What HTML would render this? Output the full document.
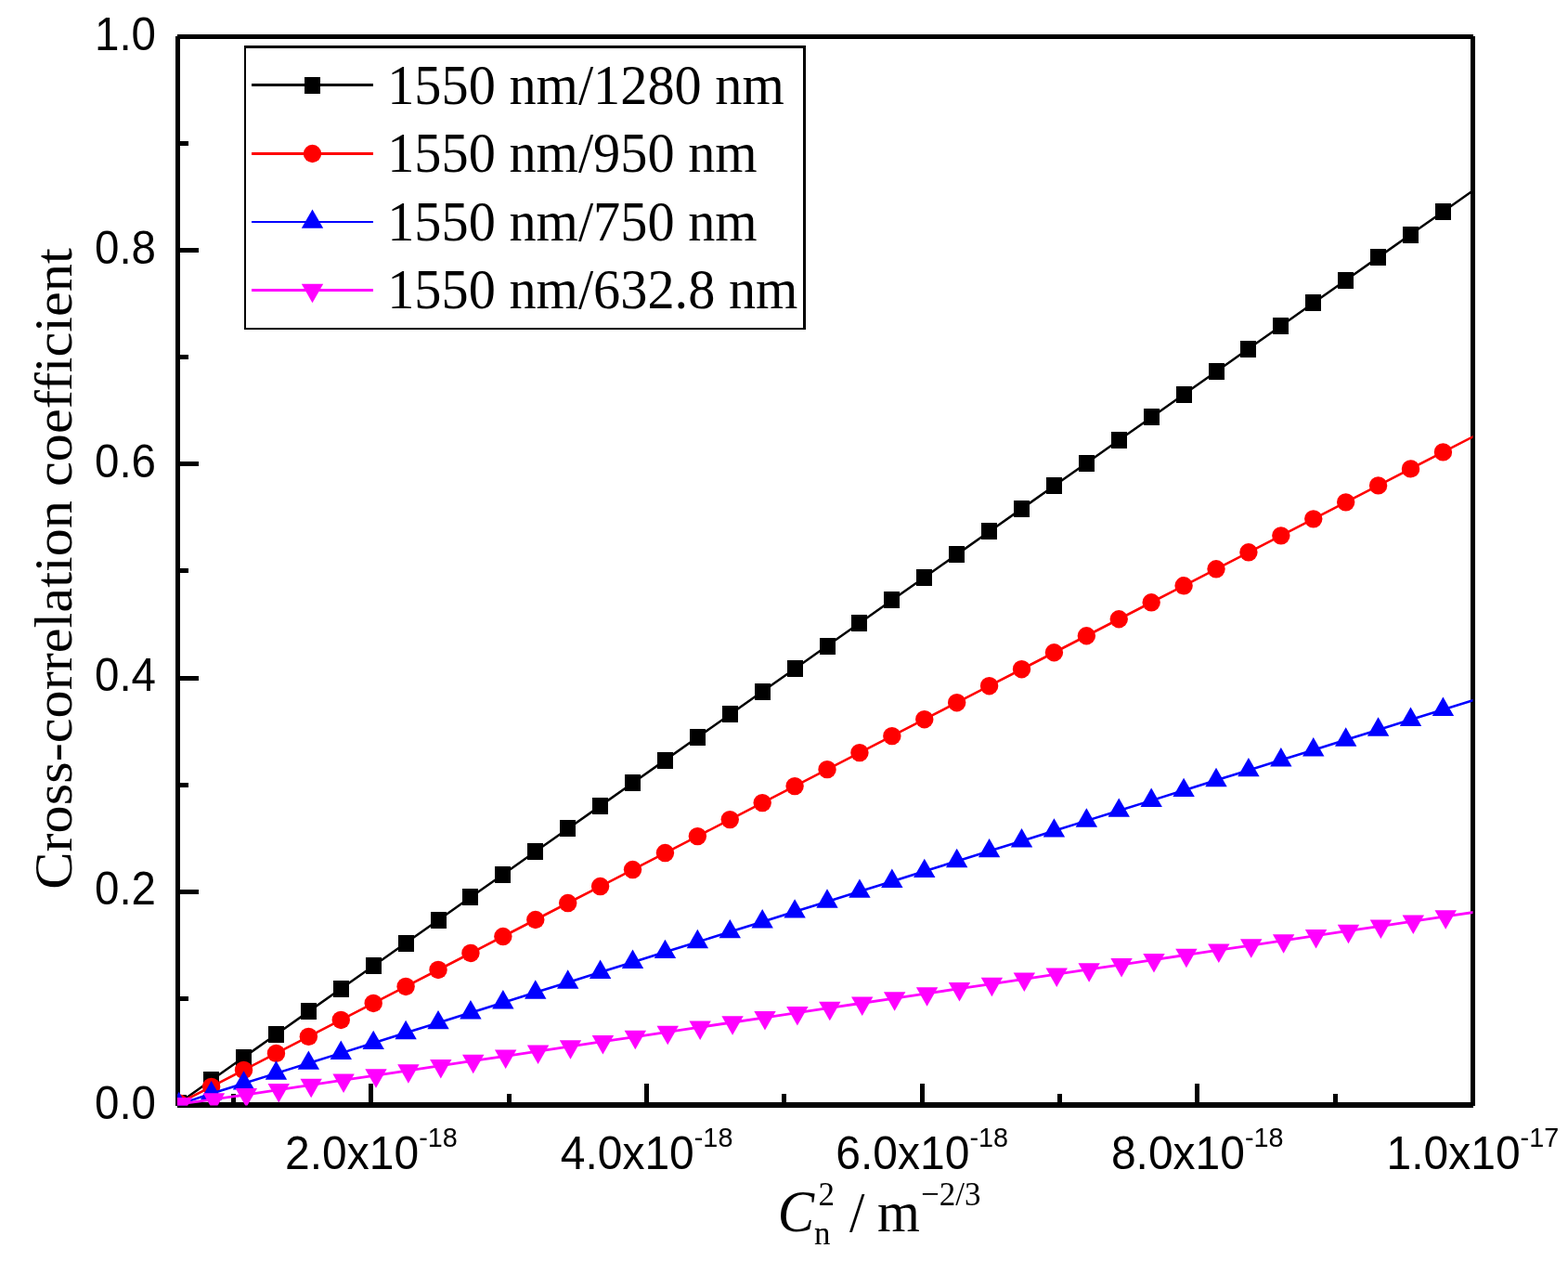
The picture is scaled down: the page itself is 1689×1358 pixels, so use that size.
<!DOCTYPE html>
<html lang="en"><head><meta charset="utf-8"><title>Cross-correlation coefficient</title>
<style>html,body{margin:0;padding:0;background:#ffffff}svg{display:block}text{font-family:"Liberation Sans",sans-serif;fill:#000}.s{font-family:"Liberation Serif",serif}</style></head><body>
<svg width="1689" height="1358" viewBox="0 0 1689 1358">
<rect width="1689" height="1358" fill="#ffffff"/>
<defs><clipPath id="c"><rect x="191" y="39" width="1395.5" height="1151.6"/></clipPath></defs>
<g fill="#000" shape-rendering="crispEdges">
<rect x="191" y="37" width="1396" height="5"/>
<rect x="191" y="1187" width="1396" height="6"/>
<rect x="189" y="39" width="5" height="1152"/>
<rect x="1584" y="39" width="5" height="1152"/>
<rect x="191" y="1188" width="23" height="5"/>
<rect x="191" y="1073" width="12" height="5"/>
<rect x="191" y="958" width="23" height="5"/>
<rect x="191" y="843" width="12" height="5"/>
<rect x="191" y="728" width="23" height="5"/>
<rect x="191" y="612" width="12" height="5"/>
<rect x="191" y="497" width="23" height="5"/>
<rect x="191" y="382" width="12" height="5"/>
<rect x="191" y="267" width="23" height="5"/>
<rect x="191" y="152" width="12" height="5"/>
<rect x="191" y="37" width="23" height="5"/>
<rect x="249" y="1178" width="5" height="11"/>
<rect x="397" y="1167" width="5" height="22"/>
<rect x="546" y="1178" width="5" height="11"/>
<rect x="694" y="1167" width="5" height="22"/>
<rect x="842" y="1178" width="5" height="11"/>
<rect x="991" y="1167" width="5" height="22"/>
<rect x="1139" y="1178" width="5" height="11"/>
<rect x="1287" y="1167" width="5" height="22"/>
<rect x="1436" y="1178" width="5" height="11"/>
<rect x="1584" y="1167" width="5" height="22"/>
</g>
<text transform="translate(168,1204.6) scale(0.99,1.055)" font-size="48" text-anchor="end">0.0</text>
<text transform="translate(168,974.4) scale(0.99,1.055)" font-size="48" text-anchor="end">0.2</text>
<text transform="translate(168,744.2) scale(0.99,1.055)" font-size="48" text-anchor="end">0.4</text>
<text transform="translate(168,514) scale(0.99,1.055)" font-size="48" text-anchor="end">0.6</text>
<text transform="translate(168,283.8) scale(0.99,1.055)" font-size="48" text-anchor="end">0.8</text>
<text transform="translate(168,53.6) scale(0.99,1.055)" font-size="48" text-anchor="end">1.0</text>
<text transform="translate(399.95,1259) scale(1.0,1.055)" font-size="48" text-anchor="middle">2.0x10<tspan font-size="28.8" dy="-22.8">-18</tspan></text>
<text transform="translate(696.55,1259) scale(1.0,1.055)" font-size="48" text-anchor="middle">4.0x10<tspan font-size="28.8" dy="-22.8">-18</tspan></text>
<text transform="translate(993.15,1259) scale(1.0,1.055)" font-size="48" text-anchor="middle">6.0x10<tspan font-size="28.8" dy="-22.8">-18</tspan></text>
<text transform="translate(1289.75,1259) scale(1.0,1.055)" font-size="48" text-anchor="middle">8.0x10<tspan font-size="28.8" dy="-22.8">-18</tspan></text>
<text transform="translate(1586.35,1259) scale(1.0,1.055)" font-size="48" text-anchor="middle">1.0x10<tspan font-size="28.8" dy="-22.8">-17</tspan></text>
<g clip-path="url(#c)">
<polyline fill="none" stroke="#000000" stroke-width="2.5" points="192.7,1188 227.62,1163.23 262.53,1138.61 297.45,1114 332.36,1089.39 367.28,1064.77 402.2,1040.16 437.11,1015.54 472.03,990.93 506.94,966.32 541.86,941.7 576.78,917.09 611.69,892.47 646.61,867.86 681.52,843.25 716.44,818.63 751.36,794.02 786.27,769.4 821.19,744.79 856.1,720.18 891.02,695.56 925.94,670.95 960.85,646.33 995.77,621.72 1030.68,597.11 1065.6,572.49 1100.52,547.88 1135.43,523.26 1170.35,498.65 1205.26,474.04 1240.18,449.42 1275.1,424.81 1310.01,400.19 1344.93,375.58 1379.84,350.97 1414.76,326.35 1449.68,301.74 1484.59,277.12 1519.51,252.51 1554.42,227.9 1589.34,203.28 1624.26,178.67"/>
<rect x="184" y="1179" width="17" height="18" fill="#000000" shape-rendering="crispEdges"/>
<rect x="219" y="1154" width="17" height="18" fill="#000000" shape-rendering="crispEdges"/>
<rect x="254" y="1130" width="17" height="18" fill="#000000" shape-rendering="crispEdges"/>
<rect x="289" y="1105" width="17" height="18" fill="#000000" shape-rendering="crispEdges"/>
<rect x="324" y="1080" width="17" height="18" fill="#000000" shape-rendering="crispEdges"/>
<rect x="359" y="1056" width="17" height="18" fill="#000000" shape-rendering="crispEdges"/>
<rect x="394" y="1031" width="17" height="18" fill="#000000" shape-rendering="crispEdges"/>
<rect x="429" y="1007" width="17" height="18" fill="#000000" shape-rendering="crispEdges"/>
<rect x="464" y="982" width="17" height="18" fill="#000000" shape-rendering="crispEdges"/>
<rect x="498" y="957" width="17" height="18" fill="#000000" shape-rendering="crispEdges"/>
<rect x="533" y="933" width="17" height="18" fill="#000000" shape-rendering="crispEdges"/>
<rect x="568" y="908" width="17" height="18" fill="#000000" shape-rendering="crispEdges"/>
<rect x="603" y="883" width="17" height="18" fill="#000000" shape-rendering="crispEdges"/>
<rect x="638" y="859" width="17" height="18" fill="#000000" shape-rendering="crispEdges"/>
<rect x="673" y="834" width="17" height="18" fill="#000000" shape-rendering="crispEdges"/>
<rect x="708" y="810" width="17" height="18" fill="#000000" shape-rendering="crispEdges"/>
<rect x="743" y="785" width="17" height="18" fill="#000000" shape-rendering="crispEdges"/>
<rect x="778" y="760" width="17" height="18" fill="#000000" shape-rendering="crispEdges"/>
<rect x="813" y="736" width="17" height="18" fill="#000000" shape-rendering="crispEdges"/>
<rect x="848" y="711" width="17" height="18" fill="#000000" shape-rendering="crispEdges"/>
<rect x="883" y="687" width="17" height="18" fill="#000000" shape-rendering="crispEdges"/>
<rect x="917" y="662" width="17" height="18" fill="#000000" shape-rendering="crispEdges"/>
<rect x="952" y="637" width="17" height="18" fill="#000000" shape-rendering="crispEdges"/>
<rect x="987" y="613" width="17" height="18" fill="#000000" shape-rendering="crispEdges"/>
<rect x="1022" y="588" width="17" height="18" fill="#000000" shape-rendering="crispEdges"/>
<rect x="1057" y="563" width="17" height="18" fill="#000000" shape-rendering="crispEdges"/>
<rect x="1092" y="539" width="17" height="18" fill="#000000" shape-rendering="crispEdges"/>
<rect x="1127" y="514" width="17" height="18" fill="#000000" shape-rendering="crispEdges"/>
<rect x="1162" y="490" width="17" height="18" fill="#000000" shape-rendering="crispEdges"/>
<rect x="1197" y="465" width="17" height="18" fill="#000000" shape-rendering="crispEdges"/>
<rect x="1232" y="440" width="17" height="18" fill="#000000" shape-rendering="crispEdges"/>
<rect x="1267" y="416" width="17" height="18" fill="#000000" shape-rendering="crispEdges"/>
<rect x="1302" y="391" width="17" height="18" fill="#000000" shape-rendering="crispEdges"/>
<rect x="1336" y="367" width="17" height="18" fill="#000000" shape-rendering="crispEdges"/>
<rect x="1371" y="342" width="17" height="18" fill="#000000" shape-rendering="crispEdges"/>
<rect x="1406" y="317" width="17" height="18" fill="#000000" shape-rendering="crispEdges"/>
<rect x="1441" y="293" width="17" height="18" fill="#000000" shape-rendering="crispEdges"/>
<rect x="1476" y="268" width="17" height="18" fill="#000000" shape-rendering="crispEdges"/>
<rect x="1511" y="244" width="17" height="18" fill="#000000" shape-rendering="crispEdges"/>
<rect x="1546" y="219" width="17" height="18" fill="#000000" shape-rendering="crispEdges"/>
<polyline fill="none" stroke="#ff0000" stroke-width="2.6" points="192.7,1188 227.62,1170.37 262.53,1152.39 297.45,1134.4 332.36,1116.41 367.28,1098.43 402.2,1080.44 437.11,1062.46 472.03,1044.47 506.94,1026.48 541.86,1008.5 576.78,990.51 611.69,972.53 646.61,954.54 681.52,936.55 716.44,918.57 751.36,900.58 786.27,882.6 821.19,864.61 856.1,846.62 891.02,828.64 925.94,810.65 960.85,792.67 995.77,774.68 1030.68,756.69 1065.6,738.71 1100.52,720.72 1135.43,702.74 1170.35,684.75 1205.26,666.76 1240.18,648.78 1275.1,630.79 1310.01,612.81 1344.93,594.82 1379.84,576.83 1414.76,558.85 1449.68,540.86 1484.59,522.88 1519.51,504.89 1554.42,486.9 1589.34,468.92 1624.26,450.93"/>
<circle cx="192.7" cy="1188" r="9.7" fill="#ff0000"/>
<circle cx="227.62" cy="1170.37" r="9.7" fill="#ff0000"/>
<circle cx="262.53" cy="1152.39" r="9.7" fill="#ff0000"/>
<circle cx="297.45" cy="1134.4" r="9.7" fill="#ff0000"/>
<circle cx="332.36" cy="1116.41" r="9.7" fill="#ff0000"/>
<circle cx="367.28" cy="1098.43" r="9.7" fill="#ff0000"/>
<circle cx="402.2" cy="1080.44" r="9.7" fill="#ff0000"/>
<circle cx="437.11" cy="1062.46" r="9.7" fill="#ff0000"/>
<circle cx="472.03" cy="1044.47" r="9.7" fill="#ff0000"/>
<circle cx="506.94" cy="1026.48" r="9.7" fill="#ff0000"/>
<circle cx="541.86" cy="1008.5" r="9.7" fill="#ff0000"/>
<circle cx="576.78" cy="990.51" r="9.7" fill="#ff0000"/>
<circle cx="611.69" cy="972.53" r="9.7" fill="#ff0000"/>
<circle cx="646.61" cy="954.54" r="9.7" fill="#ff0000"/>
<circle cx="681.52" cy="936.55" r="9.7" fill="#ff0000"/>
<circle cx="716.44" cy="918.57" r="9.7" fill="#ff0000"/>
<circle cx="751.36" cy="900.58" r="9.7" fill="#ff0000"/>
<circle cx="786.27" cy="882.6" r="9.7" fill="#ff0000"/>
<circle cx="821.19" cy="864.61" r="9.7" fill="#ff0000"/>
<circle cx="856.1" cy="846.62" r="9.7" fill="#ff0000"/>
<circle cx="891.02" cy="828.64" r="9.7" fill="#ff0000"/>
<circle cx="925.94" cy="810.65" r="9.7" fill="#ff0000"/>
<circle cx="960.85" cy="792.67" r="9.7" fill="#ff0000"/>
<circle cx="995.77" cy="774.68" r="9.7" fill="#ff0000"/>
<circle cx="1030.68" cy="756.69" r="9.7" fill="#ff0000"/>
<circle cx="1065.6" cy="738.71" r="9.7" fill="#ff0000"/>
<circle cx="1100.52" cy="720.72" r="9.7" fill="#ff0000"/>
<circle cx="1135.43" cy="702.74" r="9.7" fill="#ff0000"/>
<circle cx="1170.35" cy="684.75" r="9.7" fill="#ff0000"/>
<circle cx="1205.26" cy="666.76" r="9.7" fill="#ff0000"/>
<circle cx="1240.18" cy="648.78" r="9.7" fill="#ff0000"/>
<circle cx="1275.1" cy="630.79" r="9.7" fill="#ff0000"/>
<circle cx="1310.01" cy="612.81" r="9.7" fill="#ff0000"/>
<circle cx="1344.93" cy="594.82" r="9.7" fill="#ff0000"/>
<circle cx="1379.84" cy="576.83" r="9.7" fill="#ff0000"/>
<circle cx="1414.76" cy="558.85" r="9.7" fill="#ff0000"/>
<circle cx="1449.68" cy="540.86" r="9.7" fill="#ff0000"/>
<circle cx="1484.59" cy="522.88" r="9.7" fill="#ff0000"/>
<circle cx="1519.51" cy="504.89" r="9.7" fill="#ff0000"/>
<circle cx="1554.42" cy="486.9" r="9.7" fill="#ff0000"/>
<polyline fill="none" stroke="#0000ff" stroke-width="2.6" points="192.7,1189.4 227.62,1177.64 262.53,1166.76 297.45,1155.88 332.36,1145 367.28,1134.12 402.2,1123.24 437.11,1112.36 472.03,1101.48 506.94,1090.6 541.86,1079.72 576.78,1068.84 611.69,1057.96 646.61,1047.08 681.52,1036.2 716.44,1025.32 751.36,1014.44 786.27,1003.56 821.19,992.68 856.1,981.8 891.02,970.92 925.94,960.04 960.85,949.16 995.77,938.28 1030.68,927.4 1065.6,916.52 1100.52,905.64 1135.43,894.76 1170.35,883.88 1205.26,873 1240.18,862.12 1275.1,851.24 1310.01,840.36 1344.93,829.48 1379.84,818.6 1414.76,807.72 1449.68,796.84 1484.59,785.96 1519.51,775.08 1554.42,764.2 1589.34,753.32 1624.26,742.44"/>
<polygon points="192.7,1175.8 204.4,1196.2 181,1196.2" fill="#0000ff"/>
<polygon points="227.62,1164.04 239.32,1184.44 215.92,1184.44" fill="#0000ff"/>
<polygon points="262.53,1153.16 274.23,1173.56 250.83,1173.56" fill="#0000ff"/>
<polygon points="297.45,1142.28 309.15,1162.68 285.75,1162.68" fill="#0000ff"/>
<polygon points="332.36,1131.4 344.06,1151.8 320.66,1151.8" fill="#0000ff"/>
<polygon points="367.28,1120.52 378.98,1140.92 355.58,1140.92" fill="#0000ff"/>
<polygon points="402.2,1109.64 413.9,1130.04 390.5,1130.04" fill="#0000ff"/>
<polygon points="437.11,1098.76 448.81,1119.16 425.41,1119.16" fill="#0000ff"/>
<polygon points="472.03,1087.88 483.73,1108.28 460.33,1108.28" fill="#0000ff"/>
<polygon points="506.94,1077 518.64,1097.4 495.24,1097.4" fill="#0000ff"/>
<polygon points="541.86,1066.12 553.56,1086.52 530.16,1086.52" fill="#0000ff"/>
<polygon points="576.78,1055.24 588.48,1075.64 565.08,1075.64" fill="#0000ff"/>
<polygon points="611.69,1044.36 623.39,1064.76 599.99,1064.76" fill="#0000ff"/>
<polygon points="646.61,1033.48 658.31,1053.88 634.91,1053.88" fill="#0000ff"/>
<polygon points="681.52,1022.6 693.22,1043 669.82,1043" fill="#0000ff"/>
<polygon points="716.44,1011.72 728.14,1032.12 704.74,1032.12" fill="#0000ff"/>
<polygon points="751.36,1000.84 763.06,1021.24 739.66,1021.24" fill="#0000ff"/>
<polygon points="786.27,989.96 797.97,1010.36 774.57,1010.36" fill="#0000ff"/>
<polygon points="821.19,979.08 832.89,999.48 809.49,999.48" fill="#0000ff"/>
<polygon points="856.1,968.2 867.8,988.6 844.4,988.6" fill="#0000ff"/>
<polygon points="891.02,957.32 902.72,977.72 879.32,977.72" fill="#0000ff"/>
<polygon points="925.94,946.44 937.64,966.84 914.24,966.84" fill="#0000ff"/>
<polygon points="960.85,935.56 972.55,955.96 949.15,955.96" fill="#0000ff"/>
<polygon points="995.77,924.68 1007.47,945.08 984.07,945.08" fill="#0000ff"/>
<polygon points="1030.68,913.8 1042.38,934.2 1018.98,934.2" fill="#0000ff"/>
<polygon points="1065.6,902.92 1077.3,923.32 1053.9,923.32" fill="#0000ff"/>
<polygon points="1100.52,892.04 1112.22,912.44 1088.82,912.44" fill="#0000ff"/>
<polygon points="1135.43,881.16 1147.13,901.56 1123.73,901.56" fill="#0000ff"/>
<polygon points="1170.35,870.28 1182.05,890.68 1158.65,890.68" fill="#0000ff"/>
<polygon points="1205.26,859.4 1216.96,879.8 1193.56,879.8" fill="#0000ff"/>
<polygon points="1240.18,848.52 1251.88,868.92 1228.48,868.92" fill="#0000ff"/>
<polygon points="1275.1,837.64 1286.8,858.04 1263.4,858.04" fill="#0000ff"/>
<polygon points="1310.01,826.76 1321.71,847.16 1298.31,847.16" fill="#0000ff"/>
<polygon points="1344.93,815.88 1356.63,836.28 1333.23,836.28" fill="#0000ff"/>
<polygon points="1379.84,805 1391.54,825.4 1368.14,825.4" fill="#0000ff"/>
<polygon points="1414.76,794.12 1426.46,814.52 1403.06,814.52" fill="#0000ff"/>
<polygon points="1449.68,783.24 1461.38,803.64 1437.98,803.64" fill="#0000ff"/>
<polygon points="1484.59,772.36 1496.29,792.76 1472.89,792.76" fill="#0000ff"/>
<polygon points="1519.51,761.48 1531.21,781.88 1507.81,781.88" fill="#0000ff"/>
<polygon points="1554.42,750.6 1566.12,771 1542.72,771" fill="#0000ff"/>
<polyline fill="none" stroke="#ff00ff" stroke-width="2.8" points="195.5,1188.6 230.42,1183.97 265.33,1178.79 300.25,1173.6 335.16,1168.41 370.08,1163.23 405,1158.04 439.91,1152.86 474.83,1147.67 509.74,1142.48 544.66,1137.3 579.58,1132.11 614.49,1126.93 649.41,1121.74 684.32,1116.55 719.24,1111.37 754.16,1106.18 789.07,1101 823.99,1095.81 858.9,1090.62 893.82,1085.44 928.74,1080.25 963.65,1075.07 998.57,1069.88 1033.48,1064.69 1068.4,1059.51 1103.32,1054.32 1138.23,1049.14 1173.15,1043.95 1208.06,1038.76 1242.98,1033.58 1277.9,1028.39 1312.81,1023.21 1347.73,1018.02 1382.64,1012.83 1417.56,1007.65 1452.48,1002.46 1487.39,997.28 1522.31,992.09 1557.22,986.9 1592.14,981.72 1627.06,976.53"/>
<polygon points="195.5,1202.4 207.2,1181.9 183.8,1181.9" fill="#ff00ff"/>
<polygon points="230.42,1197.77 242.12,1177.27 218.72,1177.27" fill="#ff00ff"/>
<polygon points="265.33,1192.59 277.03,1172.09 253.63,1172.09" fill="#ff00ff"/>
<polygon points="300.25,1187.4 311.95,1166.9 288.55,1166.9" fill="#ff00ff"/>
<polygon points="335.16,1182.21 346.86,1161.71 323.46,1161.71" fill="#ff00ff"/>
<polygon points="370.08,1177.03 381.78,1156.53 358.38,1156.53" fill="#ff00ff"/>
<polygon points="405,1171.84 416.7,1151.34 393.3,1151.34" fill="#ff00ff"/>
<polygon points="439.91,1166.66 451.61,1146.16 428.21,1146.16" fill="#ff00ff"/>
<polygon points="474.83,1161.47 486.53,1140.97 463.13,1140.97" fill="#ff00ff"/>
<polygon points="509.74,1156.28 521.44,1135.78 498.04,1135.78" fill="#ff00ff"/>
<polygon points="544.66,1151.1 556.36,1130.6 532.96,1130.6" fill="#ff00ff"/>
<polygon points="579.58,1145.91 591.28,1125.41 567.88,1125.41" fill="#ff00ff"/>
<polygon points="614.49,1140.73 626.19,1120.23 602.79,1120.23" fill="#ff00ff"/>
<polygon points="649.41,1135.54 661.11,1115.04 637.71,1115.04" fill="#ff00ff"/>
<polygon points="684.32,1130.35 696.02,1109.85 672.62,1109.85" fill="#ff00ff"/>
<polygon points="719.24,1125.17 730.94,1104.67 707.54,1104.67" fill="#ff00ff"/>
<polygon points="754.16,1119.98 765.86,1099.48 742.46,1099.48" fill="#ff00ff"/>
<polygon points="789.07,1114.8 800.77,1094.3 777.37,1094.3" fill="#ff00ff"/>
<polygon points="823.99,1109.61 835.69,1089.11 812.29,1089.11" fill="#ff00ff"/>
<polygon points="858.9,1104.42 870.6,1083.92 847.2,1083.92" fill="#ff00ff"/>
<polygon points="893.82,1099.24 905.52,1078.74 882.12,1078.74" fill="#ff00ff"/>
<polygon points="928.74,1094.05 940.44,1073.55 917.04,1073.55" fill="#ff00ff"/>
<polygon points="963.65,1088.87 975.35,1068.37 951.95,1068.37" fill="#ff00ff"/>
<polygon points="998.57,1083.68 1010.27,1063.18 986.87,1063.18" fill="#ff00ff"/>
<polygon points="1033.48,1078.49 1045.18,1057.99 1021.78,1057.99" fill="#ff00ff"/>
<polygon points="1068.4,1073.31 1080.1,1052.81 1056.7,1052.81" fill="#ff00ff"/>
<polygon points="1103.32,1068.12 1115.02,1047.62 1091.62,1047.62" fill="#ff00ff"/>
<polygon points="1138.23,1062.94 1149.93,1042.44 1126.53,1042.44" fill="#ff00ff"/>
<polygon points="1173.15,1057.75 1184.85,1037.25 1161.45,1037.25" fill="#ff00ff"/>
<polygon points="1208.06,1052.56 1219.76,1032.06 1196.36,1032.06" fill="#ff00ff"/>
<polygon points="1242.98,1047.38 1254.68,1026.88 1231.28,1026.88" fill="#ff00ff"/>
<polygon points="1277.9,1042.19 1289.6,1021.69 1266.2,1021.69" fill="#ff00ff"/>
<polygon points="1312.81,1037.01 1324.51,1016.51 1301.11,1016.51" fill="#ff00ff"/>
<polygon points="1347.73,1031.82 1359.43,1011.32 1336.03,1011.32" fill="#ff00ff"/>
<polygon points="1382.64,1026.63 1394.34,1006.13 1370.94,1006.13" fill="#ff00ff"/>
<polygon points="1417.56,1021.45 1429.26,1000.95 1405.86,1000.95" fill="#ff00ff"/>
<polygon points="1452.48,1016.26 1464.18,995.76 1440.78,995.76" fill="#ff00ff"/>
<polygon points="1487.39,1011.08 1499.09,990.58 1475.69,990.58" fill="#ff00ff"/>
<polygon points="1522.31,1005.89 1534.01,985.39 1510.61,985.39" fill="#ff00ff"/>
<polygon points="1557.22,1000.7 1568.92,980.2 1545.52,980.2" fill="#ff00ff"/>
</g>
<g shape-rendering="crispEdges"><rect x="263" y="49" width="605" height="306" fill="#000"/><rect x="265" y="52" width="600" height="301" fill="#ffffff"/></g>
<rect x="271" y="90" width="131" height="3" fill="#000000" shape-rendering="crispEdges"/>
<rect x="328" y="83" width="17" height="18" fill="#000000" shape-rendering="crispEdges"/>
<text class="s" transform="translate(417.2,111.5) scale(1.004,1.045)" font-size="58.1">1550 nm/1280 nm</text>
<rect x="271" y="164" width="131" height="3" fill="#ff0000" shape-rendering="crispEdges"/>
<circle cx="336.5" cy="165.5" r="9.7" fill="#ff0000"/>
<text class="s" transform="translate(417.2,185) scale(1.004,1.045)" font-size="58.1">1550 nm/950 nm</text>
<rect x="271" y="238" width="131" height="2" fill="#0000ff" shape-rendering="crispEdges"/>
<polygon points="336.5,225.4 348.2,245.8 324.8,245.8" fill="#0000ff"/>
<text class="s" transform="translate(417.2,258.5) scale(1.004,1.045)" font-size="58.1">1550 nm/750 nm</text>
<rect x="271" y="311" width="131" height="3" fill="#ff00ff" shape-rendering="crispEdges"/>
<polygon points="336.5,326.3 348.2,305.8 324.8,305.8" fill="#ff00ff"/>
<text class="s" transform="translate(417.2,332) scale(1.004,1.045)" font-size="58.1">1550 nm/632.8 nm</text>
<text class="s" transform="translate(77,612.5) scale(1,1.04) rotate(-90)" font-size="58" text-anchor="middle">Cross-correlation coefficient</text>
<text class="s" transform="translate(837.8,1325.6) scale(1.0,1.06)" font-size="59" font-style="italic">C</text>
<text class="s" transform="translate(881.5,1298) scale(1.0,1.04)" font-size="35">2</text>
<text class="s" transform="translate(877,1340) scale(1.0,1.04)" font-size="35">n</text>
<text class="s" transform="translate(915,1326) scale(1.0,1.04)" font-size="59">/</text>
<text class="s" transform="translate(945,1326) scale(1.0,1.04)" font-size="59">m</text>
<text class="s" transform="translate(992,1298) scale(1.0,1.04)" font-size="35">−2/3</text>
</svg></body></html>
